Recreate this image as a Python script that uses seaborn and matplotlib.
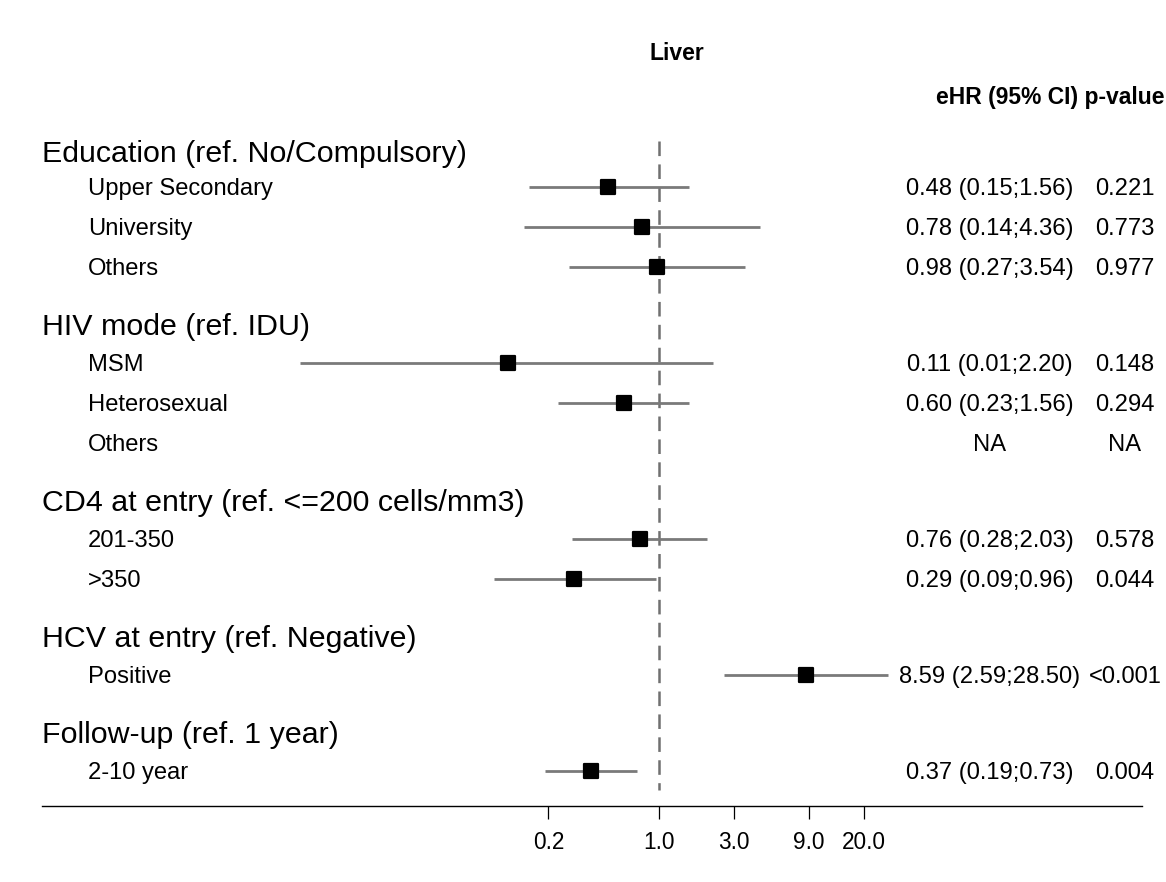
import numpy as np
import pandas as pd
import matplotlib
matplotlib.use("Agg")
import matplotlib.pyplot as plt
import matplotlib.transforms as mtransforms
from matplotlib.markers import MarkerStyle
import seaborn as sns

# ---- data -------------------------------------------------------------
groups = [
    "Education (ref. No/Compulsory)",
    "HIV mode (ref. IDU)",
    "CD4 at entry (ref. <=200 cells/mm3)",
    "HCV at entry (ref. Negative)",
    "Follow-up (ref. 1 year)",
]
group_items = [
    ["Upper Secondary", "University", "Others"],
    ["MSM", "Heterosexual", "Others"],
    ["201-350", ">350"],
    ["Positive"],
    ["2-10 year"],
]
ehr = [0.48, 0.78, 0.98, 0.11, 0.60, np.nan, 0.76, 0.29, 8.59, 0.37]
ci_low = [0.15, 0.14, 0.27, 0.0053, 0.23, np.nan, 0.28, 0.09, 2.59, 0.19]
ci_high = [1.56, 4.36, 3.54, 2.20, 1.56, np.nan, 2.03, 0.96, 28.50, 0.73]
p_values = ["0.221", "0.773", "0.977", "0.148", "0.294", "NA",
            "0.578", "0.044", "<0.001", "0.004"]
tick_values = [0.2, 1.0, 3.0, 9.0, 20.0]
tick_labels = ["0.2", "1.0", "3.0", "9.0", "20.0"]
title = "Liver"
column_header = "eHR (95% CI) p-value"

# ---- style -------------------------------------------------------------
sns.set_theme(style="white")
plt.rcParams["font.family"] = ["Liberation Sans", "DejaVu Sans"]
plt.rcParams["text.color"] = "black"
plt.rcParams["lines.scale_dashes"] = False

W, H = 1166, 882
fig = plt.figure(figsize=(W / 100, H / 100), dpi=100)
fig.patch.set_facecolor("white")

# forest area: x in log scale, y in pixel rows counted from the top
x_left, x_right, x_ref, px_per_ln = 42, 1142, 658.7, 68.5
axis_y = 805.7
ax = fig.add_axes([x_left / W, 1 - axis_y / H, (x_right - x_left) / W, axis_y / H])
ax.set_xscale("log")
ax.set_xlim(np.exp((x_left - x_ref) / px_per_ln), np.exp((x_right - x_ref) / px_per_ln))
ax.set_ylim(axis_y, 0)
ax.set_facecolor("white")
for side in ["top", "left", "right"]:
    ax.spines[side].set_visible(False)
ax.spines["bottom"].set_color("black")
ax.spines["bottom"].set_linewidth(1.0)
ax.set_yticks([])
ax.set_xticks(tick_values)
ax.set_xticklabels(tick_labels)
ax.xaxis.set_minor_locator(matplotlib.ticker.NullLocator())
ax.tick_params(axis="x", which="major", direction="out", length=9.5, width=0.9,
               color="black", labelsize=16.3, labelcolor="black", pad=9, bottom=True)

# row layout
row_step, head_to_item, item_to_head = 40.0, 38.0, 58.0
rows, head_rows = [], []
y = 186.7 - 35.0
for g, items in zip(groups, group_items):
    head_rows.append((g, y))
    y += head_to_item if head_rows[1:] else 35.0
    for it in items:
        rows.append((it, y))
        y += row_step
    y += item_to_head - row_step

df = pd.DataFrame({
    "label": [r[0] for r in rows],
    "ypos": [r[1] for r in rows],
    "ehr": ehr,
    "low": ci_low,
    "high": ci_high,
    "p": p_values,
})

# reference line at 1
ax.plot([1.0, 1.0], [141, 790], color="#707070", linewidth=1.8,
        linestyle=(0, (10.5, 6.0)), zorder=1)

# confidence intervals
ok = df.dropna(subset=["ehr"])
ax.hlines(ok["ypos"], ok["low"], ok["high"], colors="#7a7a7a", linewidth=2.0, zorder=2)

# point estimates
sns.scatterplot(data=ok, x="ehr", y="ypos", ax=ax, marker=MarkerStyle("s"), s=108,
                color="black", edgecolor="black", linewidth=1.6, zorder=3, legend=False)
for coll in ax.collections:
    coll.set_joinstyle("round")
ax.set_xlabel("")
ax.set_ylabel("")

# ---- text table ---------------------------------------------------------
tr = mtransforms.blended_transform_factory(fig.transFigure, ax.transData)
text_shift = 2.0
head_shift = 2.0

fig.text(677 / W, 1 - 53 / H, title, ha="center", va="center",
         fontsize=16.5, fontweight="bold", color="black")
ax.text(1164 / W, 97.5, column_header, transform=tr, ha="right", va="center",
        fontsize=16.5, fontweight="bold", color="black", clip_on=False)

for g, gy in head_rows:
    ax.text(42 / W, gy + head_shift, g, transform=tr, ha="left", va="center",
            fontsize=21.9, color="black", clip_on=False)

for _, r in df.iterrows():
    yy = r["ypos"] + text_shift
    ax.text(88 / W, yy, r["label"], transform=tr, ha="left", va="center",
            fontsize=17.1, color="black", clip_on=False)
    if np.isnan(r["ehr"]):
        est = "NA"
    else:
        est = f"{r['ehr']:.2f} ({r['low']:.2f};{r['high']:.2f})"
    ax.text(990 / W, yy, est, transform=tr, ha="center", va="center",
            fontsize=17.1, color="black", clip_on=False)
    ax.text(1125 / W, yy, r["p"], transform=tr, ha="center", va="center",
            fontsize=17.1, color="black", clip_on=False)

fig.savefig("out.png", dpi=100, facecolor="white")
